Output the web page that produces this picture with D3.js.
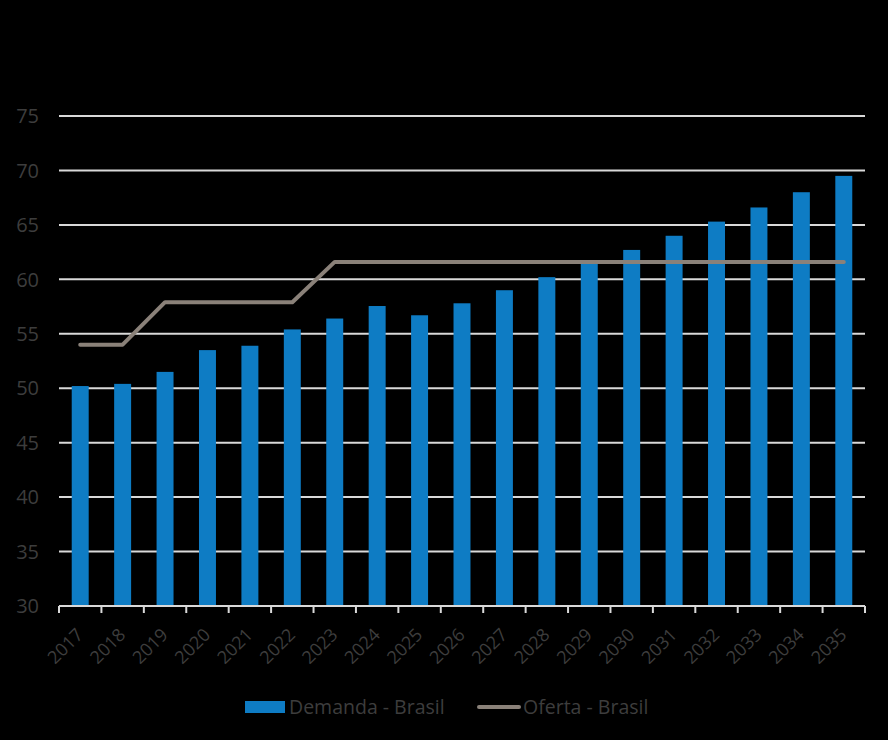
<!DOCTYPE html>
<html>
<head>
<meta charset="utf-8">
<script src="https://cdn.jsdelivr.net/npm/d3@7"></script>
<style>
  body { margin: 0; background: #000; }
  svg { display: block; }
</style>
</head>
<body>
<div id="chart"></div>
<script>
// data
const years = ["2017","2018","2019","2020","2021","2022","2023","2024","2025","2026",
               "2027","2028","2029","2030","2031","2032","2033","2034","2035"];
const demanda = [50.2, 50.4, 51.5, 53.5, 53.9, 55.4, 56.4, 57.55, 56.7, 57.8,
                 59.0, 60.2, 61.5, 62.7, 64.0, 65.3, 66.6, 68.0, 69.5];
const oferta = [54.0, 54.0, 57.9, 57.9, 57.9, 57.9, 61.6, 61.6, 61.6, 61.6,
                61.6, 61.6, 61.6, 61.6, 61.6, 61.6, 61.6, 61.6, 61.6];
const yTicks = [30, 35, 40, 45, 50, 55, 60, 65, 70, 75];

const width = 888, height = 740;
const margin = { top: 116, right: 23, bottom: 134, left: 59 };
const barColor = "#0e7cc4";
const lineColor = "#8a8179";
const textColor = "#3d3d3d";
const font = "Open Sans, sans-serif";

const svg = d3.select("#chart").append("svg")
    .attr("width", width)
    .attr("height", height)
    .style("background", "#000");

const x = d3.scaleBand()
    .domain(years)
    .range([margin.left, width - margin.right])
    .paddingInner(0.6)
    .paddingOuter(0.3);

const y = d3.scaleLinear()
    .domain([30, 75])
    .range([height - margin.bottom, margin.top]);

// gridlines
svg.append("g")
    .selectAll("line")
    .data(yTicks.filter(d => d > 30))
    .join("line")
    .attr("x1", margin.left)
    .attr("x2", width - margin.right)
    .attr("y1", d => y(d))
    .attr("y2", d => y(d))
    .attr("stroke", "#d9d9d9")
    .attr("stroke-width", 2);

// y labels
svg.append("g")
    .selectAll("text")
    .data(yTicks)
    .join("text")
    .attr("x", 39)
    .attr("y", d => y(d))
    .attr("dy", "0.36em")
    .attr("text-anchor", "end")
    .attr("fill", textColor)
    .style("font", `20px ${font}`)
    .text(d => d);

// bars
svg.append("g")
    .selectAll("rect")
    .data(demanda)
    .join("rect")
    .attr("x", (d, i) => x(years[i]))
    .attr("y", d => y(d))
    .attr("width", x.bandwidth())
    .attr("height", d => y(30) - y(d))
    .attr("fill", barColor);

// x axis line + ticks at category boundaries
const x0 = margin.left;
const span = width - margin.right - margin.left;
const xAxis = svg.append("g");
xAxis.append("line")
    .attr("x1", margin.left)
    .attr("x2", width - margin.right)
    .attr("y1", y(30))
    .attr("y2", y(30))
    .attr("stroke", "#d9d9d9")
    .attr("stroke-width", 2);
xAxis.selectAll("line.tick")
    .data(d3.range(years.length + 1))
    .join("line")
    .attr("class", "tick")
    .attr("x1", i => x0 + i * span / years.length)
    .attr("x2", i => x0 + i * span / years.length)
    .attr("y1", y(30))
    .attr("y2", y(30) + 7)
    .attr("stroke", "#d9d9d9")
    .attr("stroke-width", 2);

// rotated year labels
xAxis.selectAll("text")
    .data(years)
    .join("text")
    .attr("transform", d => `translate(${x(d) + x.bandwidth() / 2 + 4},${y(30) + 30}) rotate(-45)`)
    .attr("text-anchor", "end")
    .attr("fill", textColor)
    .style("font", `18px ${font}`)
    .text(d => d);

// oferta line
const line = d3.line()
    .x((d, i) => x(years[i]) + x.bandwidth() / 2)
    .y(d => y(d));

svg.append("path")
    .datum(oferta)
    .attr("d", line)
    .attr("fill", "none")
    .attr("stroke", lineColor)
    .attr("stroke-width", 4)
    .attr("stroke-linecap", "round")
    .attr("stroke-linejoin", "round");

// legend
const legend = svg.append("g");
legend.append("rect")
    .attr("x", 245).attr("y", 701)
    .attr("width", 40).attr("height", 12)
    .attr("fill", barColor);
legend.append("text")
    .attr("x", 289).attr("y", 707)
    .attr("dy", "0.36em")
    .attr("fill", textColor)
    .style("font", `19.5px ${font}`)
    .text("Demanda - Brasil");
legend.append("line")
    .attr("x1", 479).attr("x2", 519)
    .attr("y1", 707).attr("y2", 707)
    .attr("stroke", lineColor)
    .attr("stroke-width", 4)
    .attr("stroke-linecap", "round");
legend.append("text")
    .attr("x", 523).attr("y", 707)
    .attr("dy", "0.36em")
    .attr("fill", textColor)
    .style("font", `19.5px ${font}`)
    .text("Oferta - Brasil");
</script>
</body>
</html>
